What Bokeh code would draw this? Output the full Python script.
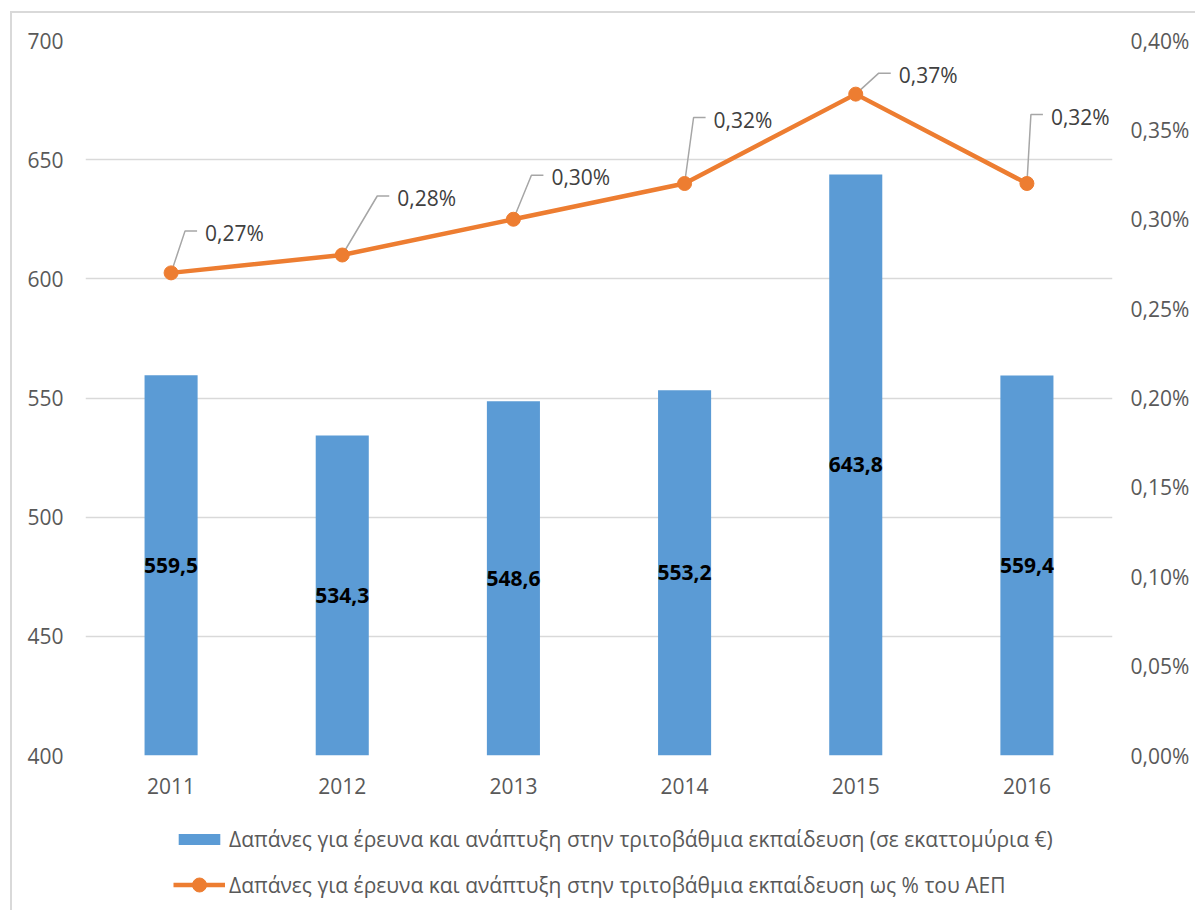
from bokeh.plotting import figure
from bokeh.layouts import column
from bokeh.models import (Range1d, LinearAxis, FixedTicker, Legend, LegendItem,
                          ColumnDataSource, InlineStyleSheet)
from bokeh.core.properties import value
from bokeh.embed import file_html
from bokeh.resources import INLINE

# ---------------- data ----------------
years = ["2011", "2012", "2013", "2014", "2015", "2016"]
spend = [559.5, 534.3, 548.6, 553.2, 643.8, 559.4]          # million €
spend_labels = ["559,5", "534,3", "548,6", "553,2", "643,8", "559,4"]
pct = [0.27, 0.28, 0.30, 0.32, 0.37, 0.32]                  # % of GDP
pct_labels = ["0,27%", "0,28%", "0,30%", "0,32%", "0,37%", "0,32%"]
left_ticks = [400, 450, 500, 550, 600, 650, 700]
right_ticks = [0.0, 0.05, 0.10, 0.15, 0.20, 0.25, 0.30, 0.35, 0.40]
right_tick_labels = ["0,00%", "0,05%", "0,10%", "0,15%", "0,20%", "0,25%",
                     "0,30%", "0,35%", "0,40%"]
legend_bar = "Δαπάνες για έρευνα και ανάπτυξη στην τριτοβάθμια εκπαίδευση (σε εκαττομύρια €)"
legend_line = "Δαπάνες για έρευνα και ανάπτυξη στην τριτοβάθμια εκπαίδευση ως % του ΑΕΠ"

# ---------------- style ----------------
BAR_COLOR = "#5B9BD5"
LINE_COLOR = "#ED7D31"
GRID_COLOR = "#D9D9D9"
TICK_COLOR = "#595959"
LABEL_COLOR = "#404040"
FONT = "Open Sans"
# leader line geometry for the percentage labels (screen px)
lead_dx = [14, 35, 18, 9, 23, 4]
lead_dy = [-42, -59, -44, -66, -21, -69]
HORIZ = 12
GAP = 8

BL, BR, BT, BB = 85, 83, 40, 55
FW, FH = 1027, 715
TOTAL_W = BL + FW + BR
LEG_H = 100

x = list(range(len(years)))
x_lo, x_hi = -0.5, len(years) - 0.5
y_lo, y_hi = left_ticks[0], left_ticks[-1]
p_lo, p_hi = right_ticks[0], right_ticks[-1]

p = figure(width=TOTAL_W, height=BT + FH + BB, output_backend="svg",
           toolbar_location=None,
           x_range=Range1d(x_lo, x_hi), y_range=Range1d(y_lo, y_hi),
           min_border_left=BL, min_border_right=BR, min_border_top=BT,
           min_border_bottom=BB)
p.extra_y_ranges = {"pct": Range1d(p_lo, p_hi)}
p.outline_line_color = None
p.xgrid.visible = False
p.ygrid.grid_line_color = GRID_COLOR
p.ygrid.grid_line_width = 1.5

# left axis
ya = p.yaxis[0]
ya.ticker = FixedTicker(ticks=left_ticks)
ya.axis_line_color = None
ya.major_tick_line_color = None
ya.minor_tick_line_color = None
ya.major_label_standoff = 16
ya.major_label_text_font = FONT
ya.major_label_text_font_size = "21px"
ya.major_label_text_color = TICK_COLOR

# right axis
ra = LinearAxis(y_range_name="pct", ticker=FixedTicker(ticks=right_ticks),
                major_label_overrides={t: l for t, l in zip(right_ticks, right_tick_labels)})
ra.axis_line_color = None
ra.major_tick_line_color = None
ra.minor_tick_line_color = None
ra.major_label_standoff = 12
ra.major_label_text_font = FONT
ra.major_label_text_font_size = "21px"
ra.major_label_text_color = TICK_COLOR
p.add_layout(ra, "right")

# x axis
xa = p.xaxis[0]
xa.ticker = FixedTicker(ticks=x)
xa.major_label_overrides = {i: y for i, y in zip(x, years)}
xa.axis_line_color = None
xa.major_tick_line_color = None
xa.minor_tick_line_color = None
xa.major_label_standoff = 16
xa.major_label_text_font = FONT
xa.major_label_text_font_size = "21px"
xa.major_label_text_color = TICK_COLOR

# bars
bars = p.vbar(x=x, top=spend, bottom=y_lo, width=0.31, fill_color=BAR_COLOR,
              line_color=None)
p.text(x=x, y=[(y_lo + v) / 2 for v in spend], text=spend_labels,
       text_align="center", text_baseline="middle", text_font=value(FONT),
       text_font_style="bold", text_font_size="21px", text_color="#000000")

# leader lines
sx = (x_hi - x_lo) / FW
sy = (p_hi - p_lo) / FH
xs, ys = [], []
for xi, yi, dx, dy in zip(x, pct, lead_dx, lead_dy):
    x1 = xi + dx * sx
    y1 = yi - dy * sy
    xs.append([xi, x1, x1 + HORIZ * sx])
    ys.append([yi, y1, y1])
p.multi_line(xs=xs, ys=ys, y_range_name="pct", line_color="#A6A6A6",
             line_width=1.5)

# line
ln = p.line(x=x, y=pct, y_range_name="pct", line_color=LINE_COLOR,
            line_width=4.5)
mk = p.scatter(x=x, y=pct, y_range_name="pct", size=14, fill_color=LINE_COLOR,
               line_color=LINE_COLOR)

src = ColumnDataSource(dict(x=x, y=pct, t=pct_labels,
                            xo=[dx + HORIZ + GAP for dx in lead_dx],
                            yo=[dy + 2 for dy in lead_dy]))
p.text(x="x", y="y", text="t", x_offset="xo", y_offset="yo", source=src,
       y_range_name="pct", text_align="left", text_baseline="middle",
       text_font=value(FONT), text_font_size="21px", text_color=LABEL_COLOR)

# ---------------- legend strip ----------------
# a second, frame-aligned strip that carries the legend; its glyphs reuse the
# data but lie outside its (empty) view so that only the legend shows.
q = figure(width=TOTAL_W, height=LEG_H, output_backend="svg",
           toolbar_location=None,
           x_range=Range1d(1000, 1001), y_range=Range1d(1000, 1001),
           min_border_left=0, min_border_right=0, min_border_top=0,
           min_border_bottom=0)
q.axis.visible = False
q.grid.visible = False
q.outline_line_color = None
lb = q.vbar(x=x, top=spend, bottom=y_lo, width=0.31, fill_color=BAR_COLOR,
            line_color=None)
ll = q.line(x=x, y=pct, line_color=LINE_COLOR, line_width=4.5)
lm = q.scatter(x=x, y=pct, size=14, fill_color=LINE_COLOR, line_color=LINE_COLOR)

common = dict(orientation="vertical", glyph_width=52, label_standoff=4,
              padding=0, margin=0, border_line_color=None,
              background_fill_alpha=0, label_text_font=FONT,
              label_text_font_size="21px", label_text_color=TICK_COLOR,
              label_height=30)
leg1 = Legend(items=[LegendItem(label=legend_bar, renderers=[lb])],
              location=(88, 56), glyph_height=14, **common)
leg2 = Legend(items=[LegendItem(label=legend_line, renderers=[ll, lm])],
              location=(88, 8), glyph_height=35, **common)
q.add_layout(leg1)
q.add_layout(leg2)

frame_css = InlineStyleSheet(css="""
:host::after {
  content: ""; position: absolute; left: 10px; top: 11px; right: 0; bottom: 0;
  border-left: 2px solid #D9D9D9; border-top: 2px solid #D9D9D9;
  pointer-events: none;
}
""")
layout = column(p, q, spacing=0, stylesheets=[frame_css])

open("out.html", "w").write(file_html(layout, INLINE))
